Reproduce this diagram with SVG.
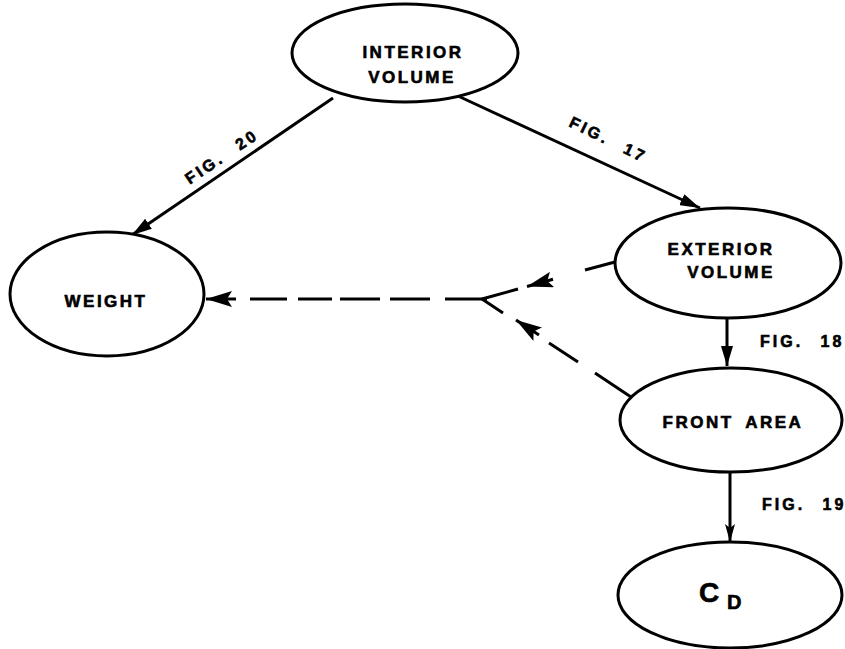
<svg xmlns="http://www.w3.org/2000/svg" width="845" height="649" viewBox="0 0 845 649">
<style>
.node{fill:#fff;stroke:#000;stroke-width:3}
.lbl{font-family:"Liberation Sans",Arial,sans-serif;font-weight:bold;font-size:17px;letter-spacing:2.5px;fill:#000;stroke:#000;stroke-width:0.6}
.fig{font-family:"Liberation Sans",Arial,sans-serif;font-weight:bold;font-size:16px;letter-spacing:3px;word-spacing:10px;fill:#000;stroke:#000;stroke-width:0.6}
.ln{fill:none;stroke:#000;stroke-width:3;stroke-linecap:butt}
</style>
<defs>
<marker id="ah" markerUnits="userSpaceOnUse" markerWidth="20" markerHeight="12" viewBox="0 0 20 12" refX="20" refY="6" orient="auto"><path d="M0,0 L20,6 L0,12 Z" fill="#000"/></marker>
<marker id="ahb" markerUnits="userSpaceOnUse" markerWidth="26" markerHeight="16" viewBox="0 0 26 16" refX="26" refY="8" orient="auto"><path d="M0,0 L26,8 L0,16 L5,8 Z" fill="#000"/></marker>
<marker id="ahn" markerUnits="userSpaceOnUse" markerWidth="18" markerHeight="10" viewBox="0 0 18 10" refX="18" refY="5" orient="auto"><path d="M0,0 L18,5 L0,10 L4,5 Z" fill="#000"/></marker>
</defs>
<g id="connectors">
<path class="ln" d="M333,98 L132,235" marker-end="url(#ah)"/>
<path class="ln" d="M458,96 L700,208" marker-end="url(#ah)"/>
<path class="ln" d="M727,318 L727,366" marker-end="url(#ah)"/>
<path class="ln" d="M730,472 L730,542" marker-end="url(#ahn)"/>
<path class="ln" d="M615,262 L585,270 M518,289 L482,299"/>
<path class="ln" d="M553,279.3 L527,286.5" marker-end="url(#ahb)"/>
<path class="ln" d="M631,397 L595,373 M578,362 L549,343 M503,313 L482,299"/>
<path class="ln" d="M539,335 L516,320" marker-end="url(#ahb)"/>
<path class="ln" d="M487,299 L445,299 M430,299 L390,299 M380,299 L340,299 M332,299 L298,299 M287,299 L250,299"/>
<path class="ln" d="M236,299 L206,299" marker-end="url(#ahb)"/>
<text class="fig" transform="translate(222,157) rotate(-34)" text-anchor="middle" y="5">FIG. 20</text>
<text class="fig" transform="translate(608,140) rotate(26)" text-anchor="middle" y="5">FIG. 17</text>
<text class="fig" x="760" y="347">FIG. 18</text>
<text class="fig" x="762" y="510">FIG. 19</text>
</g>
<g id="interior">
<ellipse class="node" cx="405" cy="53" rx="113" ry="49"/>
<text class="lbl" x="413" y="58" text-anchor="middle">INTERIOR</text>
<text class="lbl" x="412" y="83" text-anchor="middle">VOLUME</text>
</g>
<g id="exterior">
<ellipse class="node" cx="728" cy="263" rx="113" ry="55"/>
<text class="lbl" x="721" y="255" text-anchor="middle">EXTERIOR</text>
<text class="lbl" x="731" y="278" text-anchor="middle">VOLUME</text>
</g>
<g id="weight">
<ellipse class="node" cx="107" cy="294" rx="97" ry="62"/>
<text class="lbl" x="106" y="307" text-anchor="middle">WEIGHT</text>
</g>
<g id="front">
<ellipse class="node" cx="731" cy="420" rx="111" ry="52"/>
<text class="lbl" x="733" y="428" text-anchor="middle" word-spacing="5">FRONT AREA</text>
</g>
<g id="cd">
<ellipse class="node" cx="730" cy="595" rx="112" ry="53"/>
<text font-family="Liberation Sans, Arial, sans-serif" font-weight="bold" font-size="28" x="699" y="602" stroke="#000" stroke-width="0.6">C<tspan font-size="20" x="727" y="609">D</tspan></text>
</g>
</svg>
